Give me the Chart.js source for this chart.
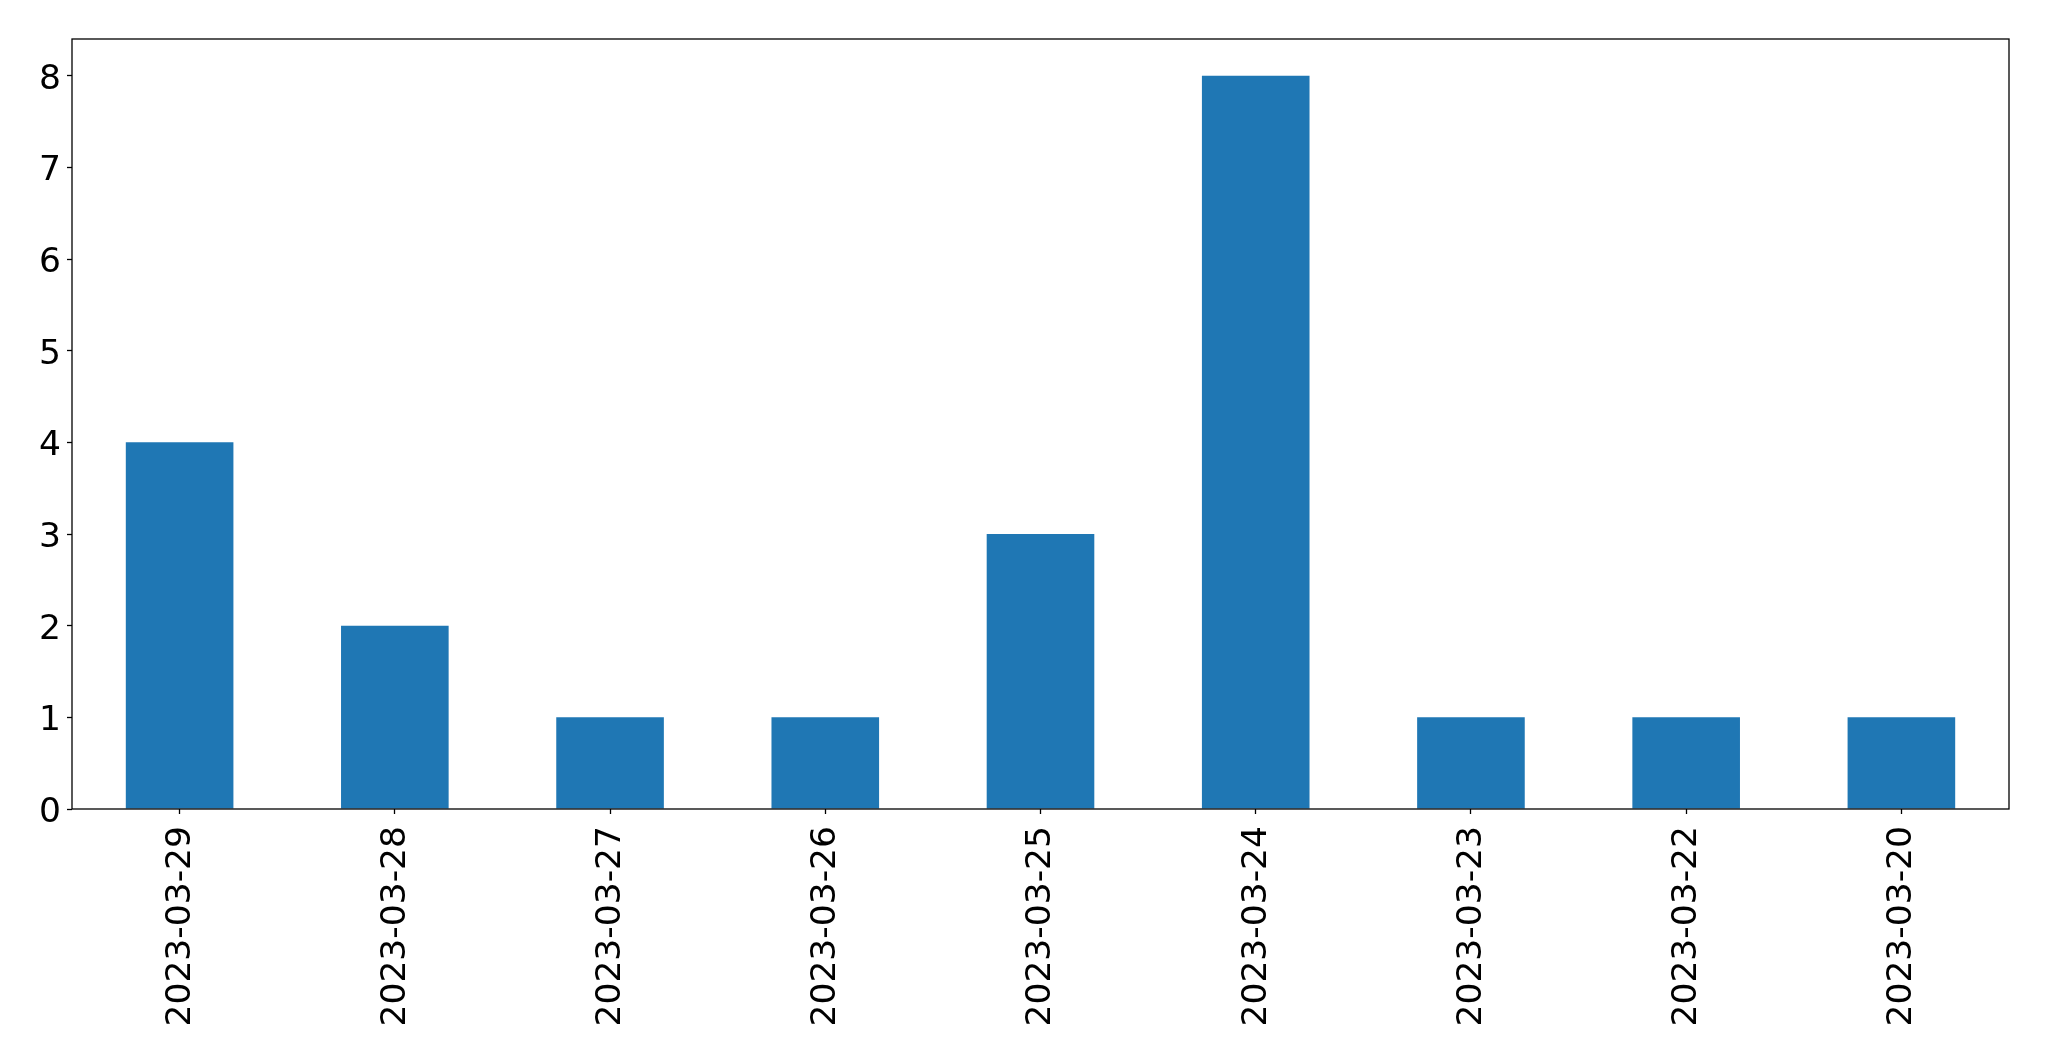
<!DOCTYPE html>
<html>
<head>
<meta charset="utf-8">
<script src="https://cdn.jsdelivr.net/npm/chart.js@4/dist/chart.umd.min.js"></script>
<style>
html,body{margin:0;padding:0;background:#fff;}
#wrap{width:2049px;height:1061px;position:relative;}
</style>
</head>
<body>
<div id="wrap"><canvas id="c" width="2049" height="1061"></canvas></div>
<script>
const categories = ["2023-03-29","2023-03-28","2023-03-27","2023-03-26","2023-03-25","2023-03-24","2023-03-23","2023-03-22","2023-03-20"];
const counts = [4,2,1,1,3,8,1,1,1];
const yTicks = [0,1,2,3,4,5,6,7,8];
const yMax = 8.4;

const frame = {
  id:'frame',
  afterDraw(chart){
    const a = chart.chartArea, ctx = chart.ctx;
    ctx.save();
    ctx.strokeStyle = '#000';
    ctx.lineWidth = 1.3;
    ctx.strokeRect(a.left, a.top, a.right - a.left, a.bottom - a.top);
    ctx.restore();
  }
};

new Chart(document.getElementById('c'), {
  type:'bar',
  data:{labels:categories, datasets:[{data:counts, backgroundColor:'#1f77b4', borderWidth:0, barPercentage:0.5, categoryPercentage:1.0}]},
  options:{
    responsive:false, animation:false,
    layout:{padding:{top:39, right:40, left:0, bottom:0}},
    plugins:{legend:{display:false}, tooltip:{enabled:false}},
    scales:{
      x:{
        grid:{display:true, drawOnChartArea:false, drawTicks:true, tickLength:5, tickColor:'#000', offset:false, tickWidth:1.3},
        border:{display:false},
        ticks:{color:'#000', font:{family:'DejaVu Sans', size:34.5}, minRotation:90, maxRotation:90, padding:12, autoSkip:false, labelOffset:1},
        afterFit(s){ s.height = 252; }
      },
      y:{
        min:0, max:yMax,
        grid:{display:true, drawOnChartArea:false, drawTicks:true, tickLength:5, tickColor:'#000', tickWidth:1.3},
        border:{display:false},
        ticks:{color:'#000', font:{family:'DejaVu Sans', size:34.5}, padding:6, labelOffset:4},
        afterBuildTicks(s){ s.ticks = yTicks.map(v=>({value:v})); },
        afterFit(s){ s.width = 72; }
      }
    }
  },
  plugins:[frame]
});
</script>
</body>
</html>
